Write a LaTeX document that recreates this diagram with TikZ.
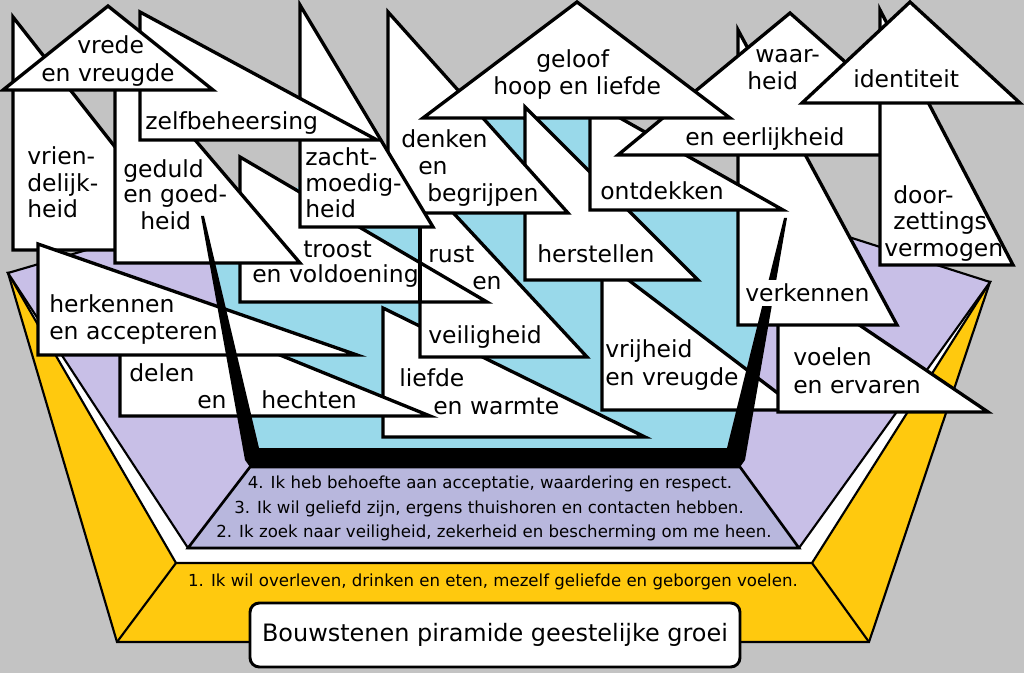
\documentclass[tikz,border=0pt]{standalone}
\usepackage{fontspec}
\setmainfont{DejaVu Sans}
\definecolor{bggray}{HTML}{C3C3C3}
\definecolor{gold}{HTML}{FFC90E}
\definecolor{lav}{HTML}{C8BFE7}
\definecolor{bandc}{HTML}{B8B7DD}
\definecolor{sky}{HTML}{99D9EA}
\newcommand\bigfont{\fontsize{17.6}{21}\selectfont}
\newcommand\smallfont{\fontsize{12.45}{14}\selectfont}
\newcommand\titlefont{\fontsize{17.95}{21}\selectfont}
\begin{document}
\begin{tikzpicture}[x=0.75pt,y=-0.75pt,
  shp/.style={fill=white,draw=black,line width=2.5pt,line join=miter},
  lbl/.style={anchor=base west,inner sep=0pt,font=\bigfont},
  need/.style={anchor=base,inner sep=0pt,font=\smallfont},
  baseedge/.style={draw=black,line width=1.6pt,line join=miter}]
\useasboundingbox (0,0) rectangle (1024,673);
\fill[bggray] (0,0) rectangle (1024,673);
% base of the pyramid
\filldraw[fill=gold,baseedge] (8,273) -- (117,642) -- (869,642) -- (990,282) -- cycle;
\filldraw[fill=white,baseedge] (8,273) -- (176,563) -- (812,563) -- (990,282) -- cycle;
\draw[baseedge] (176,563) -- (117,642) (812,563) -- (869,642);
\filldraw[fill=lav,baseedge] (8,273) -- (203,216) -- (786,217) -- (990,282) -- (799,548) -- (188,548) -- cycle;
\filldraw[fill=bandc,baseedge,line width=2pt] (250,467) -- (740,467) -- (799,548) -- (188,548) -- cycle;
\fill[sky] (204,216) -- (388,160) -- (440,110) -- (590,110) -- (784,217) -- (727,448) -- (259,448) -- cycle;
% building blocks
\draw[shp] (13,17) -- (13,250) -- (196,250) -- cycle;      % vriendelijkheid
\draw[shp] (383,308) -- (383,437) -- (645,437) -- cycle;   % liefde
\draw[shp] (120,290) -- (120,416) -- (430,416) -- cycle;   % delen
\draw[shp] (38,244) -- (38,355) -- (357,355) -- cycle;     % herkennen
\draw[shp] (420,177) -- (420,357) -- (587,357) -- cycle;   % rust
\draw[shp] (240,157) -- (240,302) -- (487,302) -- cycle;   % troost
\draw[line width=2.5pt] (420,226) -- (420,302);            % edge of rust over troost
\draw[shp] (602,260) -- (602,410) -- (800,410) -- cycle;   % vrijheid
\draw[shp] (778,270) -- (778,412) -- (988,412) -- cycle;   % voelen
\draw[shp] (738,30) -- (738,325) -- (897,325) -- cycle;    % verkennen
\draw[shp] (525,107) -- (525,280) -- (698,280) -- cycle;   % herstellen
\draw[shp] (590,101) -- (590,210) -- (783,210) -- cycle;   % ontdekken
\draw[shp] (790,13) -- (618,155) -- (950,155) -- cycle;    % waarheid
\draw[shp] (388,12) -- (388,213) -- (568,213) -- cycle;    % denken
\draw[shp] (577,2) -- (423,118) -- (730,118) -- cycle;     % geloof
\begin{scope}
  \clip (500,80) rectangle (560,119.7);
  \draw[shp] (525,107) -- (525,280) -- (698,280) -- cycle;
\end{scope}
\draw[shp] (300,5) -- (300,227) -- (433,227) -- cycle;     % zacht
\draw[shp] (115,46) -- (115,263) -- (300,263) -- cycle;    % geduld
\draw[shp] (140,12) -- (140,140) -- (377,140) -- cycle;    % zelf
\draw[shp] (108,6) -- (3,90) -- (213,90) -- cycle;         % vrede
\draw[shp] (880,10) -- (880,265) -- (1013,265) -- cycle;   % door
\draw[shp] (910,2) -- (802,103) -- (1020,103) -- cycle;    % identiteit
% walls of the bowl
\fill[black] (201,216) -- (245,460) -- (250,467) -- (740,467) -- (745,460) -- (787,218) -- (784,218) -- (727,448) -- (259,448) -- (204,216) -- cycle;
% labels
\node[lbl] (t1a) at (27,165) {vrien-};
\node[lbl] (t1b) at (27,192) {delijk-};
\node[lbl] (t1c) at (27,218) {heid};
\node[lbl] (t2a) at (77,54) {vrede};
\node[lbl] (t2b) at (41,82) {en vreugde};
\node[lbl] (t3) at (145,130) {zelfbeheersing};
\node[lbl] (t4a) at (123,178) {geduld};
\node[lbl] (t4b) at (123,203) {en goed-};
\node[lbl] (t4c) at (140,230) {heid};
\node[lbl] (t5a) at (305,166) {zacht-};
\node[lbl] (t5b) at (305,192) {moedig-};
\node[lbl] (t5c) at (305,218) {heid};
\node[lbl] (t6a) at (303,258) {troost};
\node[lbl] (t6b) at (252,283) {en voldoening};
\node[lbl] (t7a) at (49,313) {herkennen};
\node[lbl] (t7b) at (49,340) {en accepteren};
\node[lbl] (t8a) at (129,382) {delen};
\node[lbl] (t8b) at (197,408) {en};
\node[lbl] (t8c) at (261,408) {hechten};
\node[lbl] (t9a) at (401,148) {denken};
\node[lbl] (t9b) at (418,175) {en};
\node[lbl] (t9c) at (427,202) {begrijpen};
\node[lbl] (t10a) at (536,68) {geloof};
\node[lbl] (t10b) at (493,95) {hoop en liefde};
\node[lbl] (t11a) at (428,263) {rust};
\node[lbl] (t11b) at (472,290) {en};
\node[lbl] (t11c) at (428,344) {veiligheid};
\node[lbl] (t12a) at (399,387) {liefde};
\node[lbl] (t12b) at (433,414) {en warmte};
\node[lbl] (t13) at (537,263) {herstellen};
\node[lbl] (t14a) at (605,358) {vrijheid};
\node[lbl] (t14b) at (605,385) {en vreugde};
\node[lbl] (t15) at (600,200) {ontdekken};
\node[lbl] (t16a) at (755,63) {waar-};
\node[lbl] (t16b) at (747,90) {heid};
\node[lbl] (t16c) at (685,146) {en eerlijkheid};
\node[lbl] (t17) at (853,88) {identiteit};
\node[lbl] (t18a) at (893,204) {door-};
\node[lbl] (t18b) at (893,230) {zettings};
\node[lbl] (t18c) at (884,257) {vermogen};
\node[lbl,fill=white,inner ysep=3pt] (t19) at (745,302) {verkennen};
\node[lbl] (t20a) at (793,366) {voelen};
\node[lbl] (t20b) at (793,393) {en ervaren};
% needs
\node[need] (n4) at (490,488) {4. Ik heb behoefte aan acceptatie, waardering en respect.};
\node[need] (n3) at (489,513) {3. Ik wil geliefd zijn, ergens thuishoren en contacten hebben.};
\node[need] (n2) at (494,537) {2. Ik zoek naar veiligheid, zekerheid en bescherming om me heen.};
\node[need] (n1) at (493,586) {1. Ik wil overleven, drinken en eten, mezelf geliefde en geborgen voelen.};
% title
\node[draw=black,fill=white,line width=2.2pt,rounded corners=7pt,minimum width=367.5pt,minimum height=48pt,inner sep=0pt,font=\titlefont] (title) at (495,635) {Bouwstenen piramide geestelijke groei};
\end{tikzpicture}
\end{document}
